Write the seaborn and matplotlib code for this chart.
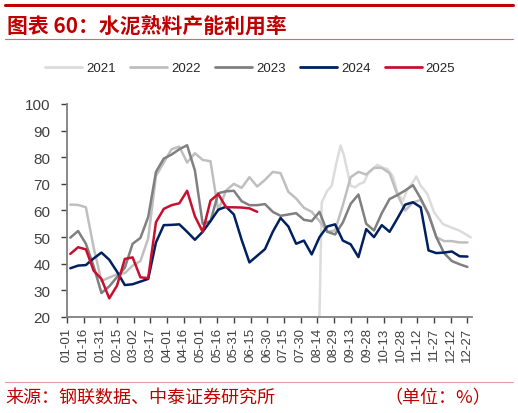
import pandas as pd
import matplotlib.pyplot as plt
import seaborn as sns
from matplotlib.lines import Line2D

# weekly observations, day-of-year
week_days = [4 + 7 * k for k in range(52)]

days_2021 = [227, 230, 235, 239, 243, 247, 250, 253, 256, 260, 264, 268, 272, 276, 280,
             285, 289, 294, 298, 303, 307, 312, 315, 319, 325, 331, 339, 346, 354, 364]
vals_2021 = [0, 63, 67.4, 69.3, 77.5, 84.4, 80.6, 75, 69.3, 68.7, 70, 70.6, 74.3, 75.6, 77.1,
             76, 75.6, 72.8, 66.8, 63.7, 68, 70.6, 72.8, 69.3, 66.2, 59.3, 54.9, 53.7, 52.4, 49.9]

vals_2022 = [62.2, 62.1, 61.2, 46, 33.5, 34.8, 36, 36.5, 39.3, 41, 49.5, 73, 78, 83, 84, 78,
             81.5, 79, 78.5, 60, 67.5, 70, 68.5, 72.5, 69, 71.5, 74.5, 74, 67, 64.5, 61, 59.5,
             56, 52, 52.5, 62, 72.5, 74.5, 73.5, 76, 76, 74, 66, 60, 63, 64, 59, 50, 48.5,
             48.5, 48, 48]

vals_2023 = [49.8, 52.3, 47.5, 39, 29, 31.5, 35, 38.5, 47.5, 49.7, 57.5, 74.5, 79.5, 81, 83,
             84.5, 75, 55, 56, 66.5, 67.2, 67.4, 63.5, 62, 62, 62.4, 59.5, 58, 58.5, 59, 56.5,
             56, 59.5, 52, 51, 55.5, 62.5, 66, 55, 52.5, 59, 64.3, 65.8, 67.5, 69.5, 64.5,
             58.5, 50, 44, 41, 39.8, 38.8]

vals_2024 = [38.3, 39.3, 39.5, 42, 44.2, 41.5, 37, 32, 32.3, 33.3, 34.3, 48, 54.5, 54.6, 54.8,
             52, 49, 52, 56, 60.3, 61.4, 58.5, 49, 40.5, 43, 45.5, 52, 57.2, 54, 47.5, 48.7,
             43.5, 50, 54, 54.8, 48.7, 47.3, 42.5, 53, 50, 54.5, 52, 57, 62.2, 63.1, 61.2, 45,
             44, 44.2, 44.6, 42.8, 42.7]

vals_2025 = [43.7, 46.2, 45.4, 37.4, 34.3, 27, 31.8, 41.8, 42.4, 34.9, 34.6, 55.6, 60.6, 62,
             62.7, 67.4, 57.8, 52, 63.7, 66.2, 61.2, 61.2, 61.1, 60.8, 59.5]

years = ['2021', '2022', '2023', '2024', '2025']
colors = ['#dcdcdc', '#bfbfbf', '#808080', '#002060', '#c8102e']

tick_days = [1 + 15 * i for i in range(25)]
tick_labels = ['01-01', '01-16', '01-31', '02-15', '03-02', '03-17', '04-01', '04-16',
               '05-01', '05-16', '05-31', '06-15', '06-30', '07-15', '07-30', '08-14',
               '08-29', '09-13', '09-28', '10-13', '10-28', '11-12', '11-27', '12-12', '12-27']

frames = [pd.DataFrame({'day': days_2021, 'value': vals_2021, 'year': '2021'})]
for y, v in zip(years[1:], [vals_2022, vals_2023, vals_2024, vals_2025]):
    frames.append(pd.DataFrame({'day': week_days[:len(v)], 'value': v, 'year': y}))
df = pd.concat(frames, ignore_index=True)

sns.set_style('white')
plt.rcParams['font.family'] = ['Liberation Sans', 'Noto Sans CJK SC', 'DejaVu Sans']

fig = plt.figure(figsize=(5.18, 4.14), dpi=100)
ax = fig.add_axes([0.1293, 0.2319, 0.7817, 0.5145])

for y, c in zip(years, colors):
    sub = df[df['year'] == y]
    sns.lineplot(data=sub, x='day', y='value', color=c, linewidth=1.8, ax=ax,
                 sort=False, estimator=None, legend=False)

ax.set_xlim(1, 365)
ax.set_ylim(20, 100)
ax.set_yticks(range(20, 101, 10))
ax.set_xticks(tick_days)
ax.set_xticklabels(tick_labels, rotation=90, fontsize=9.5, color='#404040')
ax.tick_params(axis='y', labelsize=11, colors='#404040', length=4, width=1, direction='out',
               left=True, pad=8)
ax.tick_params(axis='x', length=4, width=1, direction='out', bottom=True, colors='#404040', pad=3)
for t in ax.get_xticklines() + ax.get_yticklines():
    t.set_color('#808080')
ax.set_xlabel('')
ax.set_ylabel('')
for s in ['top', 'right']:
    ax.spines[s].set_visible(False)
for s in ['left', 'bottom']:
    ax.spines[s].set_color('#808080')
    ax.spines[s].set_linewidth(1.3)

handles = [Line2D([0], [0], color=c, lw=2) for c in colors]
fig.legend(handles, years, loc='center', bbox_to_anchor=(0.483, 0.833), ncol=5,
           frameon=False, fontsize=9.5, handlelength=2.8, handletextpad=0.3,
           columnspacing=1.1, labelcolor='#262626')

# header / footer decoration
fig.add_artist(Line2D([0.01, 0.99], [0.985, 0.985], color='#c00000', lw=2.2))
fig.add_artist(Line2D([0.01, 0.99], [0.903, 0.903], color='#e06666', lw=0.8))
fig.add_artist(Line2D([0.01, 0.99], [0.076, 0.076], color='#e99a9a', lw=0.8))

cjk = ['Noto Sans CJK SC', 'DejaVu Sans']
fig.text(0.014, 0.937, '图表 60：水泥熟料产能利用率', fontsize=15, fontweight='bold',
         color='#c00000', family=cjk, va='center', ha='left')
fig.text(0.01, 0.039, '来源：钢联数据、中泰证券研究所', fontsize=13, color='#c00000',
         family=cjk, va='center', ha='left')
fig.text(0.948, 0.039, '（单位：%）', fontsize=13, color='#c00000',
         family=cjk, va='center', ha='right')

fig.savefig('out.png', dpi=100)
